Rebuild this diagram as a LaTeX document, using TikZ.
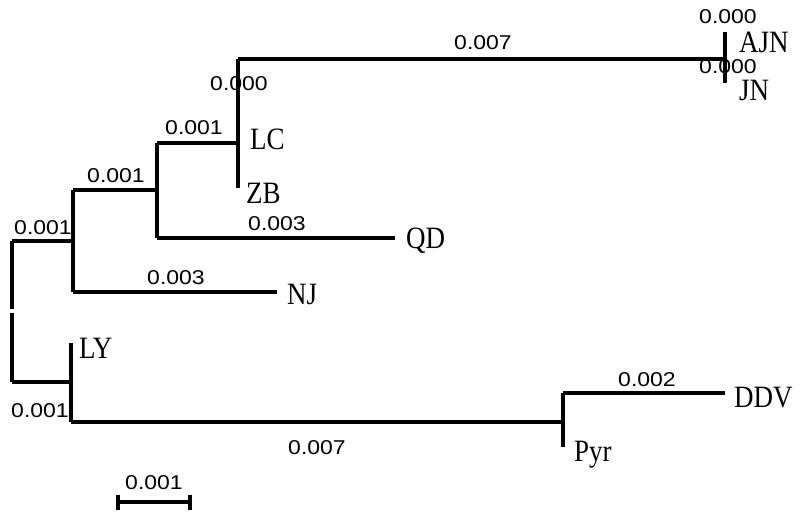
\documentclass[tikz,border=0pt]{standalone}
\usepackage{fontspec}
\setmainfont{Liberation Serif}
\newfontfamily\numfont{Liberation Sans}
\newcommand{\tiptext}[1]{\scalebox{1}[1.15]{#1}}
\newcommand{\lentext}[1]{\scalebox{1.15}[1]{#1}}
\begin{document}
\begin{tikzpicture}[x=1pt,y=-1pt,
  br/.style={line width=3.5pt,line cap=butt,line join=miter},
  tip/.style={font=\fontsize{27}{27}\selectfont,inner sep=0pt,anchor=west},
  len/.style={font=\numfont\fontsize{20}{20}\selectfont,inner sep=0pt}]
\useasboundingbox (0,0) rectangle (800,519);
% coordinates
\coordinate (rt) at (12,241);
\coordinate (rg1) at (12,309);
\coordinate (rg2) at (12,313);
\coordinate (rb) at (12,382);
\coordinate (n1t) at (73,190);
\coordinate (n1m) at (73,241);
\coordinate (n1b) at (73,292);
\coordinate (n2t) at (157,143);
\coordinate (n2m) at (157,190);
\coordinate (n2b) at (157,238);
\coordinate (n3t) at (238,59);
\coordinate (n3m) at (238,143);
\coordinate (n3b) at (238,188);
\coordinate (n4t) at (725,32);
\coordinate (n4m) at (725,59);
\coordinate (n4b) at (725,83);
\coordinate (qde) at (395,238);
\coordinate (nje) at (277,292);
\coordinate (lyt) at (71,343);
\coordinate (lym) at (71,382);
\coordinate (lyb) at (71,422);
\coordinate (pyt) at (563,393);
\coordinate (pym) at (563,422);
\coordinate (pyb) at (563,447);
\coordinate (dde) at (725,393);
\coordinate (sb1) at (118,502);
\coordinate (sb2) at (190,502);
% tips
\node[tip] (AJN) at (739,42) {\tiptext{AJN}};
\node[tip] (JN) at (739,90) {\tiptext{JN}};
\node[tip] (LC) at (250,139) {\tiptext{LC}};
\node[tip] (ZB) at (246,193) {\tiptext{ZB}};
\node[tip] (QD) at (406,241) {\tiptext{QD}};
\node[tip] (NJ) at (287,294) {\tiptext{NJ}};
\node[tip] (LY) at (79,348) {\tiptext{LY}};
\node[tip] (DDV) at (734,398) {\tiptext{DDV}};
\node[tip] (Pyr) at (574,455) {\tiptext{Pyr}};
% branches
\draw[br] (rt) -- (rg1);
\draw[br] (rg2) -- (rb);
\draw[br] (rt) -- (n1m);
\draw[br] (n1t) -- (n1b);
\draw[br] (n1b) -- (nje);
\draw[br] (n1t) -- (n2m);
\draw[br] (n2t) -- (n2b);
\draw[br] (n2b) -- (qde);
\draw[br] (n2t) -- (n3m);
\draw[br] (n3t) -- (n3b);
\draw[br,line width=3.8pt] (n3t) -- (n4m);
\draw[br] (n4t) -- (n4b);
\draw[br,line width=4.5pt] (rb) -- (lym);
\draw[br] (lyt) -- (lyb);
\draw[br] (lyb) -- (pym);
\draw[br] (pyt) -- (pyb);
\draw[br] (pyt) -- (dde);
% scale bar
\draw[br] (sb1) -- (sb2);
\draw[br] ([yshift=-7.5pt]sb1) -- ([yshift=7.5pt]sb1);
\draw[br] ([yshift=-7.5pt]sb2) -- ([yshift=7.5pt]sb2);
% branch lengths
\node[len] (l1) at (728,17) {\lentext{0.000}};
\node[len] (l2) at (728,67) {\lentext{0.000}};
\node[len] (l3) at (483,43) {\lentext{0.007}};
\node[len] (l4) at (239,84) {\lentext{0.000}};
\node[len] (l5) at (194,128) {\lentext{0.001}};
\node[len] (l6) at (116,176) {\lentext{0.001}};
\node[len] (l7) at (277,224) {\lentext{0.003}};
\node[len] (l8) at (43,228) {\lentext{0.001}};
\node[len] (l9) at (176,278) {\lentext{0.003}};
\node[len] (l10) at (40,411) {\lentext{0.001}};
\node[len] (l11) at (317,448) {\lentext{0.007}};
\node[len] (l12) at (647,380) {\lentext{0.002}};
\node[len] (l13) at (154,483) {\lentext{0.001}};
\end{tikzpicture}
\end{document}
